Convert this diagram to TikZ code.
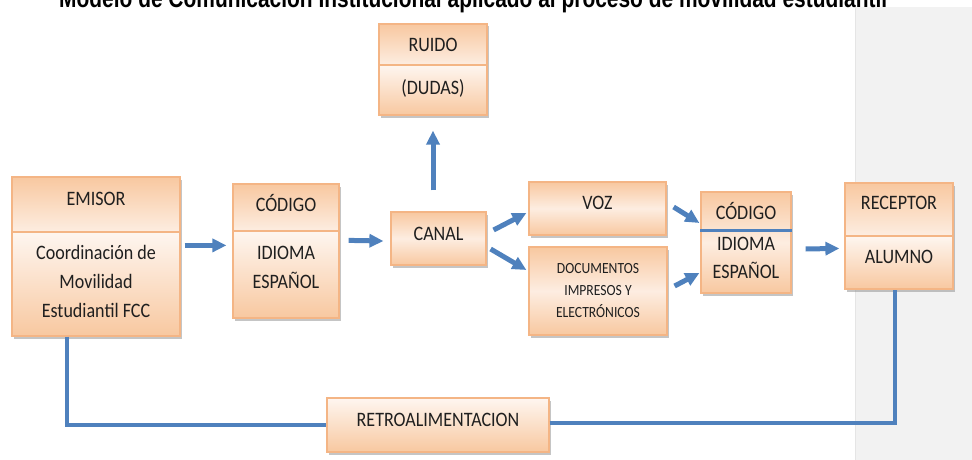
\documentclass[tikz,border=0pt]{standalone}
\usepackage{graphicx}
\usepackage{fontspec}
\newfontfamily\boxfont{Carlito}[FakeStretch=0.88]
\newfontfamily\ttlfont{Liberation Sans}
\usetikzlibrary{arrows.meta,shadows}
\definecolor{peach}{HTML}{F8C8A0}
\definecolor{peachlt}{HTML}{FDEDE1}
\definecolor{edge}{HTML}{F4B585}
\definecolor{arrblue}{HTML}{4F81BD}
\definecolor{panel}{HTML}{F2F2F2}
\definecolor{ink}{HTML}{1F1F1F}
\newcommand\mkbox[6]{\node[#2, minimum width={#5-#3}, minimum height={#6-#4}] (#1) at ({(#3+#5)/2},{(#4+#6)/2}) {};}
\begin{document}
\begin{tikzpicture}[x=1pt,y=-1pt,
  pbase/.style={draw=edge, line width=1.2pt, rectangle, inner sep=0pt,
    drop shadow={shadow xshift=1.5pt, shadow yshift=-2.5pt, fill=black!45, opacity=0.5}},
  ptop/.style={pbase, top color=peach, bottom color=peachlt},
  pbot/.style={pbase, top color=peachlt!50!white, bottom color=peach},
  pone/.style={pbase, top color=peach, bottom color=peach, middle color=peachlt},
  ln/.style={font=\boxfont\fontsize{20.5}{29}\selectfont, text=ink, inner sep=0pt, text height=13.2pt, text depth=0pt},
  lnsmall/.style={font=\boxfont\fontsize{15.5}{22}\selectfont, text=ink, inner sep=0pt, text height=10pt, text depth=0pt},
  arr/.style={draw=arrblue, line width=5pt, -{Triangle[length=14pt,width=13pt]}},
  fb/.style={draw=arrblue, line width=4pt},
]
\useasboundingbox (0,0) rectangle (972,460);
% grey panel at the right
\fill[panel] (855,7) rectangle (972,460);
\draw[black!10, line width=1pt] (855,7) -- (855,460);

% title
\node[anchor=base west, inner sep=0pt] (title) at (59,7.3)
  {\resizebox{828pt}{\height}{\ttlfont\bfseries\fontsize{26}{28}\selectfont Modelo de Comunicación Institucional aplicado al proceso de movilidad estudiantil}};

% boxes
\mkbox{ruidoA}{ptop}{379}{24}{487}{65}
\mkbox{ruidoB}{pbot}{379}{65}{487}{115}
\mkbox{emisorA}{ptop}{12}{177}{180}{232}
\mkbox{emisorB}{pbot}{12}{232}{180}{336}
\mkbox{codA}{ptop}{233}{184}{339}{231}
\mkbox{codB}{pbot}{233}{231}{339}{318}
\mkbox{canal}{pone}{391}{212}{486}{265}
\mkbox{voz}{pone}{529}{182}{666}{235}
\mkbox{docs}{pone}{529}{247}{667}{335}
\mkbox{cod2}{pone}{701}{192}{791}{293}
\mkbox{recA}{ptop}{845}{183}{953}{236}
\mkbox{recB}{pbot}{845}{236}{953}{289}
\mkbox{retro}{pbot}{327}{398}{549}{452}

% feedback lines
\draw[fb] ([shift={(-29,0)}]emisorB.south) |- (retro.west);
\draw[fb] ([shift={(0,-2)}]retro.east) -| ([shift={(-4,0)}]recB.south);

% blue divider in second code box
\draw[arrblue, line width=3pt] (cod2.west |- 0,230) -- (cod2.east |- 0,230);

% texts
\node[ln] (tRuido) at (433,45) {RUIDO};
\node[ln] (tDudas) at (433,88) {(DUDAS)};
\node[ln] (tEmisor) at (96,199) {EMISOR};
\node[ln] (tCoord1) at (96,253) {Coordinación de};
\node[ln] (tCoord2) at (96,282) {Movilidad};
\node[ln] (tCoord3) at (96,311) {Estudiantil FCC};
\node[ln] (tCod1) at (286,205) {CÓDIGO};
\node[ln] (tIdi1) at (286,253) {IDIOMA};
\node[ln] (tEsp1) at (286,282) {ESPAÑOL};
\node[ln] (tCanal) at (438.5,234) {CANAL};
\node[ln] (tVoz) at (597.5,203) {VOZ};
\node[lnsmall] (tDoc1) at (598,268) {DOCUMENTOS};
\node[lnsmall] (tDoc2) at (598,290) {IMPRESOS Y};
\node[lnsmall] (tDoc3) at (598,312) {ELECTRÓNICOS};
\node[ln] (tCod2) at (746,213) {CÓDIGO};
\node[ln] (tIdi2) at (746,244) {IDIOMA};
\node[ln] (tEsp2) at (746,272) {ESPAÑOL};
\node[ln] (tRec) at (899,203) {RECEPTOR};
\node[ln] (tAlu) at (899,257) {ALUMNO};
\node[ln] (tRetro) at (438,420) {RETROALIMENTACION};

% arrows
\draw[arr] ([shift={(4,14)}]emisorB.north east) -- ([shift={(-6,15)}]codB.north west);
\draw[arr] ([shift={(9,10)}]codB.north east) -- ([shift={(-7,2.5)}]canal.west);
\draw[arr] ([shift={(-5.5,-21)}]canal.north) -- ([shift={(0,15)}]ruidoB.south);
\draw[arr] ([shift={(7,-8.5)}]canal.east) -- ([shift={(-2,4.5)}]voz.west);
\draw[arr] ([shift={(4,10.5)}]canal.east) -- ([shift={(-2,-21)}]docs.west);
\draw[arr] ([shift={(7,-1.5)}]voz.east) -- ([shift={(-1,-19.5)}]cod2.west);
\draw[arr] ([shift={(7,-5)}]docs.east) -- ([shift={(-1,30.5)}]cod2.west);
\draw[arr] ([shift={(14,6.5)}]cod2.east) -- ([shift={(-5,13)}]recB.north west);
\end{tikzpicture}
\end{document}
